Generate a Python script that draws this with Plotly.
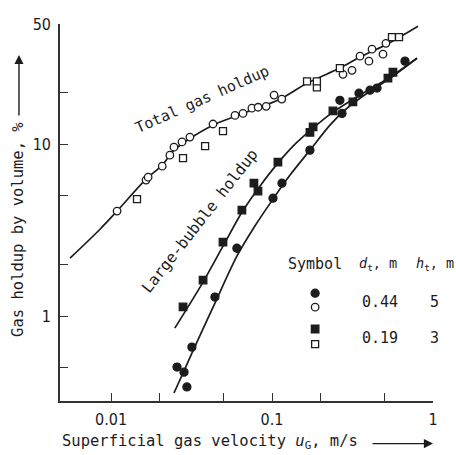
import plotly.graph_objects as go

# ---------------- data ----------------
# Total gas holdup, column d_t = 0.44 m, h_t = 5 m (open circles)
ug_tot_044 = [0.0109, 0.0165, 0.0170, 0.0208, 0.0232, 0.0246, 0.0276, 0.0309, 0.0430,
              0.0589, 0.066, 0.075, 0.082, 0.092, 0.103, 0.115, 0.276, 0.314, 0.352,
              0.400, 0.418, 0.489, 0.51]
eps_tot_044 = [4.08, 6.18, 6.43, 7.45, 8.63, 9.61, 10.3, 11.0, 13.1,
               14.7, 15.1, 16.2, 16.4, 16.6, 19.3, 18.3, 25.5, 26.9, 32.5,
               30.4, 35.7, 33.4, 38.6]
# Total gas holdup, column d_t = 0.19 m, h_t = 3 m (open squares)
ug_tot_019 = [0.0145, 0.028, 0.0384, 0.0496, 0.165, 0.190, 0.190, 0.264, 0.556, 0.615]
eps_tot_019 = [4.79, 8.29, 9.74, 11.9, 23.2, 21.4, 23.2, 27.7, 41.9, 41.9]

# Large-bubble holdup, d_t = 0.44 m (filled circles)
ug_lb_044 = [0.0257, 0.0284, 0.0296, 0.0318, 0.0442, 0.0605, 0.1014, 0.1153, 0.172,
             0.264, 0.272, 0.347, 0.406, 0.449, 0.670]
eps_lb_044 = [0.505, 0.472, 0.387, 0.660, 1.29, 2.48, 4.85, 5.93, 9.23,
              18.0, 15.1, 19.8, 20.6, 21.2, 30.4]
# Large-bubble holdup, d_t = 0.19 m (filled squares)
ug_lb_019 = [0.0280, 0.0373, 0.0496, 0.0650, 0.0772, 0.0818, 0.1088, 0.172, 0.180,
             0.239, 0.318, 0.525, 0.564]
eps_lb_019 = [1.13, 1.62, 2.69, 4.13, 5.93, 5.33, 7.86, 11.7, 12.6,
              15.6, 17.6, 24.2, 26.2]

# Drawn correlation curves
ug_curve_tot = [0.00556, 0.00854, 0.0109, 0.0165, 0.0208, 0.0246, 0.0309, 0.0430, 0.0589,
                0.0751, 0.0917, 0.1153, 0.1648, 0.264, 0.352, 0.518, 0.807]
eps_curve_tot = [2.17, 3.20, 4.08, 6.26, 7.55, 9.23, 10.8, 12.9, 14.5,
                 15.8, 16.9, 18.5, 22.6, 27.7, 32.1, 38.1, 48.5]
ug_curve_019 = [0.0249, 0.0373, 0.0496, 0.0650, 0.0841, 0.1088, 0.139, 0.1797, 0.239,
                0.305, 0.406, 0.541, 0.795]
eps_curve_019 = [0.851, 1.577, 2.55, 4.02, 5.70, 7.76, 10.0, 12.4, 15.35,
                 17.8, 20.9, 24.5, 31.6]
ug_curve_044 = [0.0246, 0.0280, 0.0318, 0.0442, 0.0605, 0.0783, 0.1014, 0.1294, 0.172,
                0.229, 0.284, 0.352, 0.436, 0.541, 0.795]
eps_curve_044 = [0.357, 0.466, 0.609, 1.19, 2.23, 3.34, 4.79, 6.61, 9.23,
                 12.9, 15.8, 18.5, 21.2, 24.2, 31.6]

x_tickvals = [0.01, 0.02, 0.05, 0.1, 0.2, 0.5, 1]
x_ticktext = ["0.01", "", "", "0.1", "", "", "1"]
y_tickvals = [0.5, 1, 2, 5, 10, 20, 50]
y_ticktext = ["", "1", "", "", "10", "", "50"]

legend_rows = [("0.44", "5"), ("0.19", "3")]

# ---------------- figure ----------------
FONT = "DejaVu Sans Condensed, Liberation Sans Narrow, DejaVu Sans, sans-serif"
MONO = "DejaVu Sans Mono, Liberation Mono, monospace"
INK = "#1c1c1c"

fig = go.Figure()

for xs, ys in [(ug_curve_tot, eps_curve_tot), (ug_curve_019, eps_curve_019),
               (ug_curve_044, eps_curve_044)]:
    fig.add_trace(go.Scatter(x=xs, y=ys, mode="lines",
                             line=dict(color=INK, width=1.7, shape="spline", smoothing=0.8),
                             hoverinfo="skip", showlegend=False))

def add_pts(xs, ys, symbol, filled, size, xaxis="x", yaxis="y"):
    fig.add_trace(go.Scatter(
        x=xs, y=ys, mode="markers", showlegend=False, xaxis=xaxis, yaxis=yaxis,
        marker=dict(symbol=symbol, size=size,
                    color=INK if filled else "white",
                    line=dict(color=INK, width=1.3))))

add_pts(ug_tot_044, eps_tot_044, "circle", False, 7.5)
add_pts(ug_tot_019, eps_tot_019, "square", False, 7)
add_pts(ug_lb_044, eps_lb_044, "circle", True, 8)
add_pts(ug_lb_019, eps_lb_019, "square", True, 7.5)

# legend symbols on an overlay axis in plot-area fractions
add_pts([0.684], [0.286], "circle", True, 8, "x2", "y2")
add_pts([0.684], [0.249], "circle", False, 7.5, "x2", "y2")
add_pts([0.684], [0.191], "square", True, 7.5, "x2", "y2")
add_pts([0.684], [0.151], "square", False, 7, "x2", "y2")

axis_common = dict(type="log", showgrid=False, zeroline=False, showline=True,
                   linecolor="#333333", linewidth=1.6, ticks="inside", ticklen=8,
                   tickwidth=1.4, tickcolor="#333333", mirror=False,
                   tickfont=dict(family=FONT, size=16, color=INK))

fig.update_layout(
    width=456, height=455,
    margin=dict(l=60, r=23, t=24, b=54),
    paper_bgcolor="white", plot_bgcolor="white",
    font=dict(family=FONT, size=16, color=INK),
    xaxis=dict(range=[-2.317, 0], tickvals=x_tickvals, ticktext=x_ticktext,
               ticklabelstandoff=3, **axis_common),
    yaxis=dict(range=[-0.494, 1.699], tickvals=y_tickvals, ticktext=y_ticktext,
               ticklabelstandoff=4, **axis_common),
    xaxis2=dict(range=[0, 1], overlaying="x", visible=False, domain=[0, 1]),
    yaxis2=dict(range=[0, 1], overlaying="y", visible=False),
)

ann = []
def text(x, y, s, size=16, angle=0, xanchor="center", family=MONO):
    ann.append(dict(xref="paper", yref="paper", x=x, y=y, text=s, showarrow=False,
                    textangle=angle, xanchor=xanchor, yanchor="middle",
                    font=dict(family=family, size=size, color=INK)))

text(0.383, 0.800, "Total gas holdup", size=15, angle=-24)
text(0.375, 0.478, "Large-bubble holdup", size=15.5, angle=-52)

text(0.684, 0.363, "Symbol", size=15)
text(0.853, 0.363, "<i>d</i><sub>t</sub>, m", size=13.5)
text(1.005, 0.363, "<i>h</i><sub>t</sub>, m", size=13.5)
for (d, h), yy in zip(legend_rows, [0.263, 0.167]):
    text(0.858, yy, d, size=15)
    text(1.005, yy, h, size=15)

# axis titles with arrows
text(0.0, -0.108, "Superficial gas velocity <i>u</i><sub>G</sub>, m/s", size=15.5, xanchor="left")
ann.append(dict(xref="paper", yref="paper", x=1.0, y=-0.113, ax=-62, ay=0,
                text="", showarrow=True, arrowhead=2, arrowsize=1.3, arrowwidth=1.4,
                arrowcolor=INK))
text(-0.113, 0.456, "Gas holdup by volume, %", size=15.5, angle=-90)
ann.append(dict(xref="paper", yref="paper", x=-0.110, y=0.918, ax=0, ay=62,
                text="", showarrow=True, arrowhead=2, arrowsize=1.3, arrowwidth=1.4,
                arrowcolor=INK))

fig.update_layout(annotations=ann)
fig.write_html("out.html")
